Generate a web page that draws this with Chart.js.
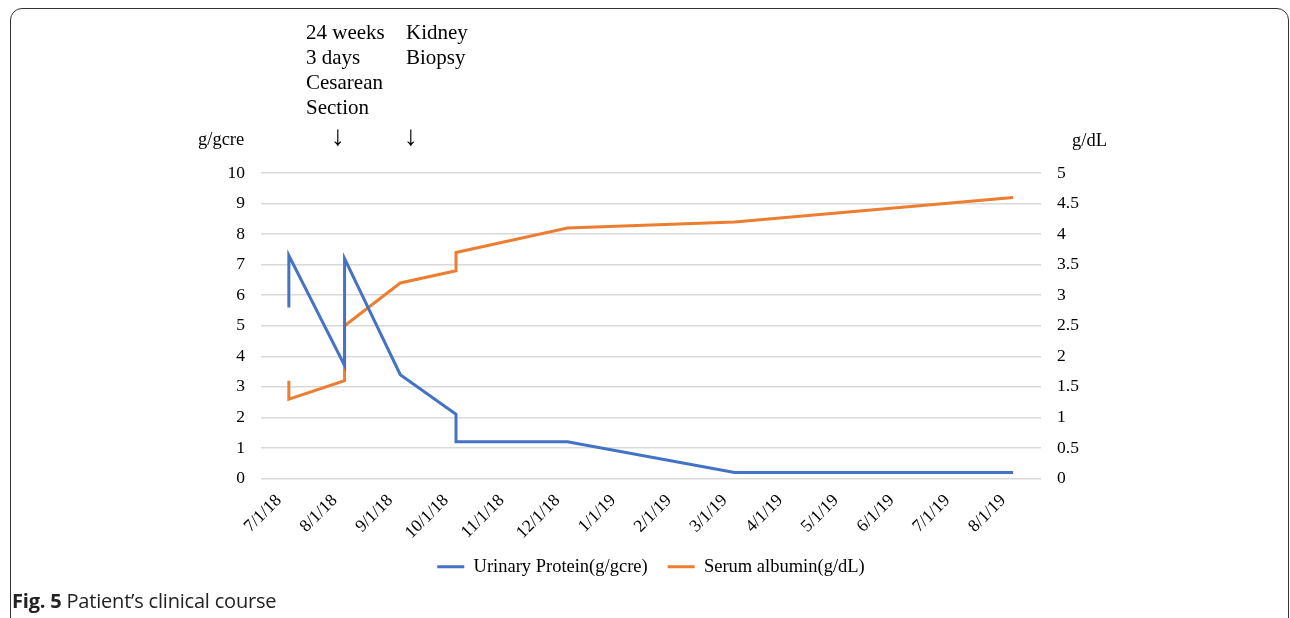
<!DOCTYPE html>
<html>
<head>
<meta charset="utf-8">
<script src="https://cdn.jsdelivr.net/npm/chart.js@4"></script>
<style>
  body { margin: 0; background: #fff; width: 1290px; height: 618px; overflow: hidden; position: relative; }
  #frame { position: absolute; left: 10px; top: 8px; width: 1279px; height: 700px; border: 1.5px solid #333; border-radius: 12px; box-sizing: border-box; }
  #wrap { position: absolute; left: 0; top: 0; width: 1290px; height: 618px; }
  .note { position: absolute; font-family: "Liberation Serif", serif; font-size: 21px; line-height: 25px; color: #000; white-space: nowrap; }
  .arrow { position: absolute; font-family: "Liberation Serif", serif; font-size: 28px; line-height: 28px; color: #000; }
  #caption { position: absolute; left: 12px; top: 587px; font-family: "Open Sans", sans-serif; font-size: 20px; color: #222; letter-spacing: -0.2px; }
</style>
</head>
<body>
<div id="frame"></div>
<div id="wrap"><canvas id="grafico" width="1290" height="618"></canvas></div>
<div class="note" style="left:306px; top:20px;">24 weeks<br>3 days<br>Cesarean<br>Section</div>
<div class="note" style="left:406px; top:20px;">Kidney<br>Biopsy</div>
<div class="arrow" style="left:331px; top:122px;">↓</div>
<div class="arrow" style="left:404px; top:122px;">↓</div>
<div class="note" style="left:198px; top:127px; font-size:18.5px;">g/gcre</div>
<div class="note" style="left:1072px; top:128px; font-size:18.5px;">g/dL</div>
<div id="caption"><b>Fig. 5</b> Patient’s clinical course</div>
<script>
const months = ['7/1/18', '8/1/18', '9/1/18', '10/1/18', '11/1/18', '12/1/18', '1/1/19', '2/1/19', '3/1/19', '4/1/19', '5/1/19', '6/1/19', '7/1/19', '8/1/19'];

const proteinDates = ['7/1/18', '7/1/18', '8/1/18', '8/1/18', '9/1/18', '10/1/18', '10/1/18', '12/1/18', '3/1/19', '8/1/19'];
const proteinValues = [5.6, 7.3, 3.7, 7.2, 3.4, 2.1, 1.2, 1.2, 0.2, 0.2];

const albuminDates = ['7/1/18', '7/1/18', '8/1/18', '8/1/18', '9/1/18', '10/1/18', '10/1/18', '12/1/18', '3/1/19', '8/1/19'];
const albuminValues = [1.6, 1.3, 1.6, 2.5, 3.2, 3.4, 3.7, 4.1, 4.2, 4.6];

const fonte = { family: 'Liberation Serif', size: 17.5 };

function pontos(datas, valores) {
    return datas.map((d, i) => ({ x: d, y: valores[i] }));
}

// deixa os rótulos inclinados passarem por baixo da caixa do eixo x
const semCorte = {
    id: 'semCorte',
    afterLayout(chart) {
        chart.scales.x.bottom = chart.height;
    }
};

const ctx = document.getElementById('grafico').getContext('2d');
new Chart(ctx, {
    type: 'line',
    data: {
        labels: months,
        datasets: [{
            label: 'Urinary Protein(g/gcre)',
            data: pontos(proteinDates, proteinValues),
            borderColor: '#4472C4',
            backgroundColor: '#4472C4',
            borderWidth: 3,
            pointRadius: 0,
            yAxisID: 'y'
        }, {
            label: 'Serum albumin(g/dL)',
            data: pontos(albuminDates, albuminValues),
            borderColor: '#ED7D31',
            backgroundColor: '#ED7D31',
            borderWidth: 3,
            pointRadius: 0,
            yAxisID: 'y2'
        }]
    },
    plugins: [semCorte],
    options: {
        responsive: false,
        animation: false,
        layout: { padding: { top: 173, left: 161, right: 149, bottom: 32 } },
        plugins: {
            tooltip: { enabled: false },
            legend: {
                position: 'bottom',
                labels: {
                    color: '#000',
                    font: { family: 'Liberation Serif', size: 18.5 },
                    boxWidth: 27,
                    boxHeight: 3,
                    padding: 20,
                    generateLabels: (chart) => chart.data.datasets.map((ds, i) => ({
                        text: ds.label,
                        fillStyle: ds.borderColor,
                        strokeStyle: ds.borderColor,
                        lineWidth: 0,
                        datasetIndex: i
                    }))
                }
            }
        },
        scales: {
            x: {
                type: 'category',
                offset: true,
                grid: { display: false },
                border: { display: false },
                ticks: { color: '#000', font: fonte, minRotation: 45, maxRotation: 45, autoSkip: false, padding: 4, labelOffset: -10 },
                afterFit: (s) => { s.height = 59; }
            },
            y: {
                position: 'left',
                min: 0, max: 10,
                grid: { color: '#d9d9d9', lineWidth: 1.5, drawTicks: false },
                border: { display: false },
                ticks: { color: '#000', font: fonte, stepSize: 1, padding: 16 },
                afterFit: (s) => { s.width = 100; }
            },
            y2: {
                position: 'right',
                min: 0, max: 5,
                grid: { display: false, drawTicks: false },
                border: { display: false },
                ticks: { color: '#000', font: fonte, stepSize: 0.5, padding: 16, callback: (v) => String(Number(v)) },
                afterFit: (s) => { s.width = 100; }
            }
        }
    }
});
</script>
</body>
</html>
